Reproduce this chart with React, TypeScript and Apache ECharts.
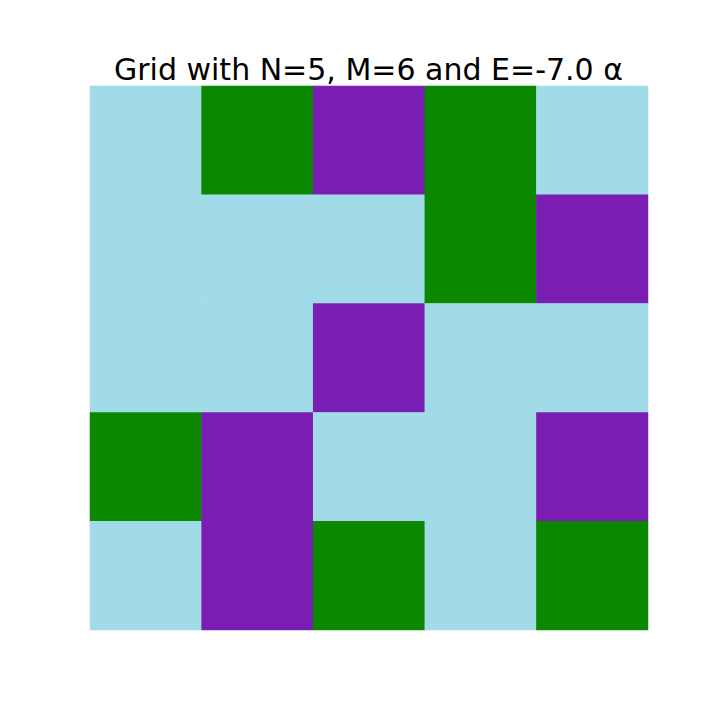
import React, { useEffect, useRef } from "react";
import * as echarts from "echarts";

const columns = ["0", "1", "2", "3", "4"];
const rows = ["0", "1", "2", "3", "4"];
// 0 = light blue, 1 = green, 2 = purple (rows top to bottom)
const cellStates: number[][] = [
  [0, 1, 2, 1, 0],
  [0, 0, 0, 1, 2],
  [0, 0, 2, 0, 0],
  [1, 2, 0, 0, 2],
  [0, 2, 1, 0, 1],
];
const stateColors = ["#a1dbe8", "#0b8800", "#7a1db3"];
const titleText = "Grid with N=5, M=6 and E=-7.0 α";

export default function App() {
  const ref = useRef<HTMLDivElement>(null);
  useEffect(() => {
    if (!ref.current) return;
    const chart = echarts.init(ref.current, null, { renderer: "svg" });
    const data: any[] = [];
    cellStates.forEach((row, r) =>
      row.forEach((s, c) => {
        data.push([c, r, s]);
      })
    );
    chart.setOption({
      animation: false,
      backgroundColor: "#ffffff",
      title: {
        text: titleText,
        left: 114,
        top: 54,
        padding: 0,
        textStyle: {
          fontFamily: "DejaVu Sans",
          fontSize: 30,
          fontWeight: "normal",
          color: "#000000",
        },
      },
      grid: { left: 90, top: 86, width: 558, height: 544 },
      xAxis: {
        type: "category",
        data: columns,
        show: false,
      },
      yAxis: {
        type: "category",
        data: rows,
        inverse: true,
        show: false,
      },
      visualMap: {
        type: "piecewise",
        show: false,
        dimension: 2,
        pieces: stateColors.map((color, i) => ({ value: i, color })),
      },
      series: [
        {
          type: "heatmap",
          data,
          itemStyle: { borderWidth: 0 },
          emphasis: { disabled: true },
        },
      ],
    });
    return () => chart.dispose();
  }, []);
  return (
    <div
      ref={ref}
      style={{ width: 720, height: 720, position: "absolute", left: 0, top: 0 }}
    />
  );
}
